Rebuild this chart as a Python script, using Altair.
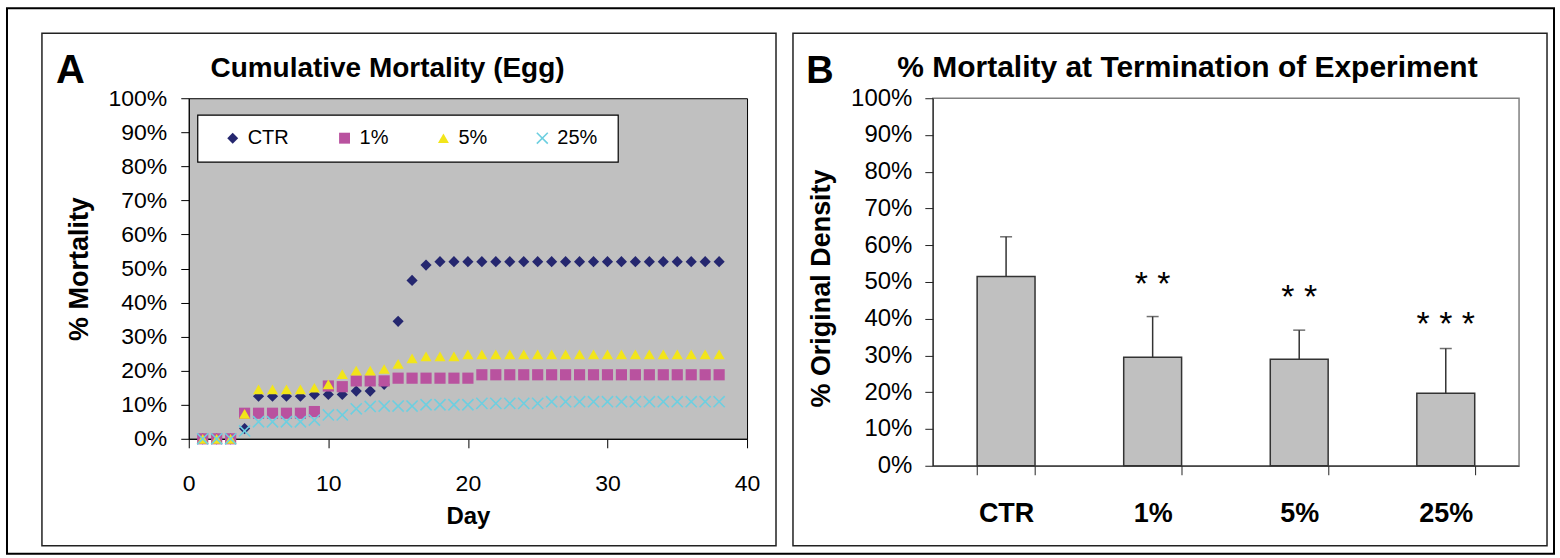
import altair as alt
import pandas as pd

# ---------------- data ----------------
days = list(range(1, 39))
series_names = ["CTR", "1%", "5%", "25%"]

ctr_mort = [0, 0, 0, 3, 12.5, 12.5, 12.5, 12.5, 13, 13, 13, 14, 14, 16, 34.5, 46.5, 51,
            52, 52, 52, 52, 52, 52, 52, 52, 52, 52, 52, 52, 52, 52, 52, 52, 52, 52, 52, 52, 52]
p1_mort = [0, 0, 0, 7.5, 7.5, 7.5, 7.5, 7.5, 8, 15.5, 15.3, 17, 17, 17, 17.8, 17.8, 17.8,
           17.8, 17.8, 17.8, 18.8, 18.8, 18.8, 18.8, 18.8, 18.8, 18.8, 18.8, 18.8, 18.8,
           18.8, 18.8, 18.8, 18.8, 18.8, 18.8, 18.8, 18.8]
p5_mort = [0, 0, 0, 7.3, 14.5, 14.5, 14.5, 14.5, 15, 16, 19, 20, 20, 20.5, 22, 23.6, 24.2,
           24.2, 24.2, 24.8, 24.8, 24.8, 24.8, 24.8, 24.8, 24.8, 24.8, 24.8, 24.8, 24.8,
           24.8, 24.8, 24.8, 24.8, 24.8, 24.8, 24.8, 24.8]
p25_mort = [0, 0, 0, 2.3, 5, 5, 5, 5, 5.5, 7, 7, 8.8, 9.5, 9.6, 9.6, 9.6, 10, 10, 10, 10,
            10.4, 10.4, 10.4, 10.4, 10.4, 10.9, 10.9, 10.9, 10.9, 10.9, 10.9, 10.9, 10.9,
            10.9, 10.9, 10.9, 10.9, 10.9]

treatments = ["CTR", "1%", "5%", "25%"]
final_mort = [51.5, 29.5, 29.0, 19.7]
err_upper = [62.3, 40.6, 36.9, 31.9]
star_treat = ["1%", "5%", "25%"]
star_text = ["* *", "* *", "* * *"]
star_level = [50.3, 46.8, 39.4]

y_ticks = [0, 10, 20, 30, 40, 50, 60, 70, 80, 90, 100]
x_ticks = [0, 10, 20, 30, 40]

# ---------------- styling ----------------
SANS = "Liberation Sans, Arial, Helvetica, sans-serif"
fill_colors = ["#25276F", "#B9529F", "#F2E51A", "transparent"]
stroke_colors = ["transparent", "transparent", "transparent", "#6DCFE0"]
shapes = ["diamond", "square", "triangle-up", "M-1,-1L1,1M-1,1L1,-1"]

rows = []
for name, vals in zip(series_names, [ctr_mort, p1_mort, p5_mort, p25_mort]):
    for d, v in zip(days, vals):
        rows.append({"day": d, "mortality": v, "series": name})
dfA = pd.DataFrame(rows)

dfB = pd.DataFrame({"treatment": treatments, "mean": final_mort, "upper": err_upper})
dfS = pd.DataFrame({"treatment": star_treat, "star": star_text, "level": star_level})

one = alt.Data(values=[{}])


def deco_rect(x, x2, y, y2, sw=1.5, fill="transparent", stroke="#222222"):
    return alt.Chart(one).mark_rect(fill=fill, stroke=stroke, strokeWidth=sw).encode(
        x=alt.value(x), x2=alt.value(x2), y=alt.value(y), y2=alt.value(y2))


def deco_text(txt, x, y, size, weight="bold"):
    return alt.Chart(one).mark_text(text=txt, fontSize=size, font=SANS, fontWeight=weight,
                                    align="center", baseline="alphabetic", color="black").encode(
        x=alt.value(x), y=alt.value(y))


# ---------------- panel A ----------------
WA, HA = 559, 341
legend = alt.Legend(orient="none", legendX=34, legendY=30, direction="horizontal", title=None,
                    labelFontSize=20, labelFont=SANS, labelColor="black", columnPadding=45,
                    labelOffset=5, padding=0, symbolStrokeWidth=1.6, symbolSize=120)

xA = alt.X("day:Q", scale=alt.Scale(domain=[0, 40], nice=False),
           axis=alt.Axis(values=x_ticks, title="Day", grid=False, tickSize=9, tickColor="black",
                         domainColor="black", labelFontSize=23, labelFont=SANS, labelColor="black",
                         labelPadding=25, labelFlush=False, labelOverlap=False,
                         titleFontSize=24, titleFont=SANS, titleFontWeight="bold",
                         titleColor="black", titlePadding=9))
yA = alt.Y("mortality:Q", scale=alt.Scale(domain=[0, 100], nice=False),
           axis=alt.Axis(values=y_ticks, labelExpr="datum.value + '%'", title="% Mortality",
                         grid=False, tickSize=8, tickColor="black", domainColor="black",
                         labelFontSize=23, labelFont=SANS, labelColor="black", labelPadding=14,
                         labelOverlap=False, titleFontSize=27, titleFont=SANS,
                         titleFontWeight="bold", titleColor="black", titleX=-109, titleY=170.5,
                         titleAngle=270, titleAlign="center", titleBaseline="middle"))

points = alt.Chart(dfA).mark_point(size=125, opacity=1, strokeWidth=1.6).encode(
    x=xA, y=yA,
    fill=alt.Fill("series:N", scale=alt.Scale(domain=series_names, range=fill_colors), legend=legend),
    stroke=alt.Stroke("series:N", scale=alt.Scale(domain=series_names, range=stroke_colors), legend=legend),
    shape=alt.Shape("series:N", scale=alt.Scale(domain=series_names, range=shapes), legend=legend),
)

chartA = alt.layer(
    deco_rect(-182, 1367, -90, 456, sw=2, stroke="black"),
    deco_rect(-147, 588, -65, 448),
    deco_text("A", -118.5, -15, 40),
    deco_text("Cumulative Mortality (Egg)", 199, -21, 28),
    deco_rect(9, 430, 17, 64, sw=1.2, fill="white", stroke="black"),
    points,
).properties(width=WA, height=HA,
             view=alt.ViewBackground(fill="#C0C0C0", stroke="black", strokeWidth=1))

# ---------------- panel B ----------------
WB, HB = 587, 368
axis_xB = alt.Axis(title=None, tickBand="extent", labelAngle=0, labelFontSize=27,
                   labelFont=SANS, labelFontWeight="bold", labelColor="black",
                   tickSize=9, tickColor="#222222", domainColor="#222222", labelPadding=26)
axis_yB = alt.Axis(values=y_ticks, labelExpr="datum.value + '%'",
                   title="% Original Density", grid=False, tickSize=8,
                   tickColor="#222222", domainColor="#222222", labelFontSize=24,
                   labelFont=SANS, labelColor="black", labelPadding=13,
                   labelOverlap=False, titleFontSize=27, titleFont=SANS,
                   titleFontWeight="bold", titleColor="black", titleX=-111, titleY=190,
                   titleAngle=270, titleAlign="center", titleBaseline="middle")
scale_xB = alt.Scale(domain=treatments, paddingInner=0.605, paddingOuter=0.3025)
scale_yB = alt.Scale(domain=[0, 100], nice=False)


def xB():
    return alt.X("treatment:N", sort=treatments, scale=scale_xB, axis=axis_xB, title=None)


def yB(field):
    return alt.Y(field, scale=scale_yB, axis=axis_yB, title="% Original Density")


bars = alt.Chart(dfB).mark_bar(fill="#C0C0C0", stroke="#333333", strokeWidth=1.5).encode(
    x=xB(), y=yB("mean:Q"))
rules = alt.Chart(dfB).mark_rule(color="#333333", strokeWidth=1.5).encode(
    x=xB(), y=yB("mean:Q"), y2="upper:Q")
caps = alt.Chart(dfB).mark_tick(color="#333333", thickness=1.5, size=12).encode(
    x=xB(), y=yB("upper:Q"))
stars = alt.Chart(dfS).mark_text(fontSize=34, dy=14, baseline="alphabetic", font=SANS,
                                 color="black").encode(
    x=xB(), y=yB("level:Q"), text="star:N")

chartB = alt.layer(
    deco_rect(-140, 615, -65, 448),
    deco_text("B", -113, -15, 38),
    deco_text("% Mortality at Termination of Experiment", 255, -21, 30),
    bars, rules, caps, stars,
).properties(width=WB, height=HB,
             view=alt.ViewBackground(fill="white", stroke="#808080", strokeWidth=1.5))

chart = alt.hconcat(chartA, chartB, spacing=186, bounds="flush").properties(
    padding={"left": 5, "top": 6, "right": 4, "bottom": 4}, background="white")

chart.save("out.html", embed_options={"renderer": "svg", "actions": False})
